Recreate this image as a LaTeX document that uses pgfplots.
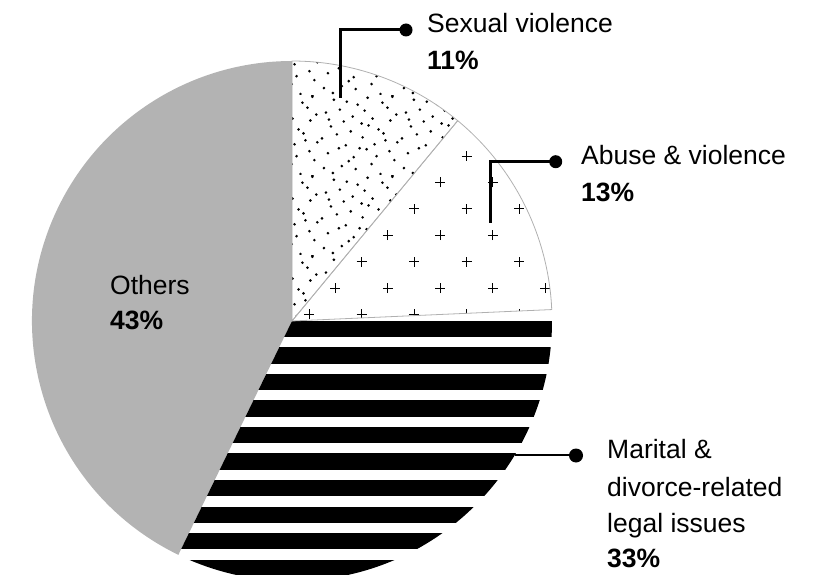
\documentclass[border=0pt]{standalone}
\usepackage{pgfplots}
\pgfplotsset{compat=1.18}
\usepackage{pgfplotstable}
\usepackage{fontspec}
\setmainfont{Liberation Sans}
\usetikzlibrary{patterns}

\definecolor{othersgray}{HTML}{B3B3B3}
\definecolor{edgegray}{HTML}{B0B0B0}

% irregular stipple for "Sexual violence"
\pgfdeclarepatternformonly{stipple}{\pgfpointorigin}{\pgfqpoint{80pt}{80pt}}{\pgfqpoint{80pt}{80pt}}{%
  \foreach \px/\py in {4/7,13/2,29/14,36/6,52/11,61/1,75/15,8/22,19/27,34/18,47/26,57/19,70/24,
    2/37,17/41,26/30,43/38,55/31,64/42,78/33,11/49,24/54,31/44,49/50,59/46,71/55,
    6/63,20/66,33/59,45/65,53/57,68/68,77/61,14/76,27/74,38/71,48/78,63/73,73/79,40/27,
    22/9,66/35,9/56,42/52}{%
    \pgfpathcircle{\pgfqpoint{\px pt}{\py pt}}{1.45pt}}%
  \pgfusepath{fill}}

% shares (percent), clockwise from 12 o'clock
\pgfplotstableread{
label   pct
Sexual  11.0
Abuse   13.3
Marital 32.9
Others  42.8
}\piedata

\begin{document}
\begin{tikzpicture}
\pgfplotstablegetelem{0}{pct}\of\piedata \pgfmathsetmacro\pA{\pgfplotsretval}
\pgfplotstablegetelem{1}{pct}\of\piedata \pgfmathsetmacro\pB{\pgfplotsretval}
\pgfplotstablegetelem{2}{pct}\of\piedata \pgfmathsetmacro\pC{\pgfplotsretval}
\pgfplotstablegetelem{3}{pct}\of\piedata \pgfmathsetmacro\pD{\pgfplotsretval}
\pgfmathsetmacro\aA{90}
\pgfmathsetmacro\aB{\aA-3.6*\pA}
\pgfmathsetmacro\aC{\aB-3.6*\pB}
\pgfmathsetmacro\aD{\aC-3.6*\pC}
\pgfmathsetmacro\aE{\aD-3.6*\pD}
\def\R{260pt}
\begin{axis}[
  width=830pt, height=574pt, scale only axis,
  xmin=0, xmax=830, ymin=0, ymax=574,
  hide axis, clip=true,
]
\path (axis cs:0,0) rectangle (axis cs:830,574);

% Others (grey)
\fill[othersgray] (axis cs:292,253) -- ++(\aD:\R) arc[start angle=\aD, end angle=\aE, radius=\R] -- cycle;

% Marital (black horizontal stripes)
\begin{scope}
\clip (axis cs:292,253) -- ++(\aC:\R) arc[start angle=\aC, end angle=\aD, radius=\R] -- cycle;
\pgfplotsinvokeforeach{0,...,10}{%
  \fill[black] (axis cs:0,{253.3-26.55*#1}) rectangle (axis cs:830,{253.3-26.55*#1-16.3});
}
\end{scope}

% Abuse & violence (plus signs)
\begin{scope}
\clip (axis cs:292,253) -- ++(\aB:\R) arc[start angle=\aB, end angle=\aC, radius=\R] -- cycle;
\pgfplotsinvokeforeach{0,...,10}{%
  \draw[black, line width=0.9pt]
    (axis cs:{256.5+26.25*mod(#1,2)},{523.6-26.4*#1}) +(-5pt,0) -- +(5pt,0) +(0,-5pt) -- +(0,5pt)
    (axis cs:{309.0+26.25*mod(#1,2)},{523.6-26.4*#1}) +(-5pt,0) -- +(5pt,0) +(0,-5pt) -- +(0,5pt)
    (axis cs:{361.5+26.25*mod(#1,2)},{523.6-26.4*#1}) +(-5pt,0) -- +(5pt,0) +(0,-5pt) -- +(0,5pt)
    (axis cs:{414.0+26.25*mod(#1,2)},{523.6-26.4*#1}) +(-5pt,0) -- +(5pt,0) +(0,-5pt) -- +(0,5pt)
    (axis cs:{466.5+26.25*mod(#1,2)},{523.6-26.4*#1}) +(-5pt,0) -- +(5pt,0) +(0,-5pt) -- +(0,5pt)
    (axis cs:{519.0+26.25*mod(#1,2)},{523.6-26.4*#1}) +(-5pt,0) -- +(5pt,0) +(0,-5pt) -- +(0,5pt)
    (axis cs:{571.5+26.25*mod(#1,2)},{523.6-26.4*#1}) +(-5pt,0) -- +(5pt,0) +(0,-5pt) -- +(0,5pt);
}
\end{scope}
\draw[edgegray, line width=0.8pt] (axis cs:292,253) -- ++(\aB:\R) arc[start angle=\aB, end angle=\aC, radius=\R] -- cycle;

% Sexual violence (stipple)
\fill[pattern=stipple, pattern color=black] (axis cs:292,253) -- ++(\aA:\R) arc[start angle=\aA, end angle=\aB, radius=\R] -- cycle;
\draw[edgegray, line width=0.8pt] (axis cs:292,253) -- ++(\aA:\R) arc[start angle=\aA, end angle=\aB, radius=\R] -- cycle;

% leader lines
\draw[black, line width=3pt, line join=miter] (axis cs:340,476) -- (axis cs:340,544) -- (axis cs:406,544);
\fill[black] (axis cs:406,544) circle[radius=6.5pt];
\draw[black, line width=3pt, line join=miter] (axis cs:490.7,351) -- (axis cs:490.7,412.3) -- (axis cs:555.7,412.3);
\fill[black] (axis cs:555.7,412.3) circle[radius=6.5pt];
\draw[black, line width=1.8pt] (axis cs:515,119) -- (axis cs:576,119);
\fill[black] (axis cs:576,118.5) circle[radius=7pt];

% labels
\tikzset{lab/.style={anchor=base west, inner sep=0pt, font=\fontsize{26.5}{31}\selectfont}}
\node[lab] at (axis cs:427,541.3) {Sexual violence};
\node[lab] at (axis cs:427,504) {\bfseries 11\%};
\node[lab] at (axis cs:581,409) {Abuse \& violence};
\node[lab] at (axis cs:581,372.3) {\bfseries 13\%};
\node[lab] at (axis cs:110,280) {Others};
\node[lab] at (axis cs:110,245) {\bfseries 43\%};
\node[lab] at (axis cs:607,116) {Marital \&};
\node[lab] at (axis cs:607,78) {divorce-related};
\node[lab] at (axis cs:607,41.3) {legal issues};
\node[lab] at (axis cs:607,7) {\bfseries 33\%};
\end{axis}
\end{tikzpicture}
\end{document}
